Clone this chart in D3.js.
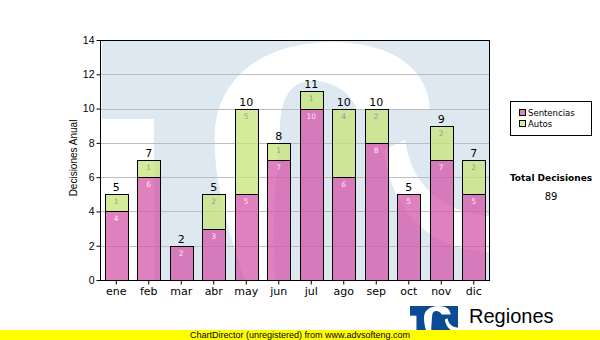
<!DOCTYPE html>
<html>
<head>
<meta charset="utf-8">
<script src="https://cdn.jsdelivr.net/npm/d3@7/dist/d3.min.js"></script>
<style>
  html, body { margin: 0; padding: 0; background: #fff; }
  svg { display: block; }
</style>
</head>
<body>
<svg id="chart" width="600" height="340"></svg>
<script>
// Monthly decisions, split by type
const months = ["ene", "feb", "mar", "abr", "may", "jun", "jul", "ago", "sep", "oct", "nov", "dic"];
const sentencias = [4, 6, 2, 3, 5, 7, 10, 6, 8, 5, 7, 5];
const autos = [1, 1, 0, 2, 5, 1, 1, 4, 2, 0, 2, 2];
const yTicks = [0, 2, 4, 6, 8, 10, 12, 14];
const seriesNames = ["Sentencias", "Autos"];

const totals = months.map((m, i) => sentencias[i] + autos[i]);
const grandTotal = d3.sum(totals);

const svg = d3.select("#chart");
const plot = { left: 100, right: 490, top: 40, bottom: 280 };

const x = d3.scaleBand().domain(months).range([plot.left, plot.right])
  .paddingInner(0.28).paddingOuter(0.14);
const y = d3.scaleLinear().domain([0, 14]).range([plot.bottom, plot.top]);

const PINK = "rgb(212,86,170)";
const GREEN = "rgb(197,228,120)";
const LIGHT = "#dde8f1";
const LOGO = "#0d4a94";

// Emblem outline: white cut-outs on a solid square (coordinates in plot space)
function drawEmblem(g, fill) {
  g.append("rect").attr("x", 102).attr("y", 41).attr("width", 388).attr("height", 260).attr("fill", fill);
  g.append("rect").attr("x", 102).attr("y", 119).attr("width", 52).attr("height", 190).attr("fill", "#fff");
  g.append("path").attr("fill", "#fff").attr("d",
    "M252,300 C230,240 212,180 215,130 C218,80 260,43 330,42 C395,42 428,70 430,110 " +
    "L357,110 C350,90 330,80 310,81 C290,82 281,100 280,125 C278,170 268,230 278,300 Z");
  g.append("path").attr("fill", "#fff").attr("d",
    "M405,140 C412,185 440,212 490,216 L490,252 C428,250 392,210 383,150 Z");
}

// Watermark behind the plot
svg.append("clipPath").attr("id", "plotClip").append("rect")
  .attr("x", plot.left).attr("y", plot.top)
  .attr("width", plot.right - plot.left).attr("height", plot.bottom - plot.top);
drawEmblem(svg.append("g").attr("clip-path", "url(#plotClip)"), LIGHT);

// Horizontal grid
svg.append("g").selectAll("line").data(yTicks.filter(t => t > 0 && t < 14)).join("line")
  .attr("x1", plot.left).attr("x2", plot.right)
  .attr("y1", d => Math.round(y(d)) + 0.5).attr("y2", d => Math.round(y(d)) + 0.5)
  .attr("stroke", "#bdbdbd").attr("stroke-width", 1);

// Stacked bars
const stack = d3.stack().keys(seriesNames)(months.map((m, i) => ({ m, Sentencias: sentencias[i], Autos: autos[i] })));
const colors = { Sentencias: PINK, Autos: GREEN };
const labelColors = { Sentencias: "#fbe6f3", Autos: "#9a9a9a" };

stack.forEach(layer => {
  const g = svg.append("g");
  const segs = layer.filter(d => d[1] - d[0] > 0);
  g.selectAll("rect").data(segs).join("rect")
    .attr("x", d => Math.round(x(d.data.m)) + 0.5)
    .attr("y", d => Math.round(y(d[1])) + 0.5)
    .attr("width", Math.round(x.bandwidth()))
    .attr("height", d => Math.round(y(d[0])) - Math.round(y(d[1])))
    .attr("fill", colors[layer.key]).attr("fill-opacity", 0.75)
    .attr("stroke", "#000").attr("stroke-width", 1);
  g.selectAll("text").data(segs).join("text")
    .attr("x", d => x(d.data.m) + x.bandwidth() / 2)
    .attr("y", d => y(d[1]) + 10)
    .attr("text-anchor", "middle")
    .attr("font-family", "DejaVu Sans").attr("font-size", 7.5)
    .attr("fill", labelColors[layer.key])
    .text(d => d[1] - d[0]);
});

// Totals above the bars
svg.append("g").selectAll("text").data(months).join("text")
  .attr("x", m => x(m) + x.bandwidth() / 2)
  .attr("y", (m, i) => y(totals[i]) - 3)
  .attr("text-anchor", "middle")
  .attr("font-family", "DejaVu Sans").attr("font-size", 11).attr("fill", "#000")
  .text((m, i) => totals[i]);

// Plot frame
svg.append("rect").attr("x", plot.left + 0.5).attr("y", plot.top + 0.5)
  .attr("width", plot.right - plot.left - 1).attr("height", plot.bottom - plot.top)
  .attr("fill", "none").attr("stroke", "#000").attr("stroke-width", 1);

// Axes
const yAxis = d3.axisLeft(y).tickValues(yTicks).tickSize(4).tickPadding(2).tickFormat(d3.format("d"));
const gy = svg.append("g").attr("transform", `translate(${plot.left + 0.5},0)`).call(yAxis);
gy.select(".domain").remove();
gy.selectAll("text").attr("font-family", "Liberation Sans, Arial").attr("font-size", 10.5).attr("fill", "#000");

const xAxis = d3.axisBottom(x).tickSize(4).tickPadding(3);
const gx = svg.append("g").attr("transform", `translate(0,${plot.bottom + 0.5})`).call(xAxis);
gx.select(".domain").remove();
gx.selectAll("text").attr("font-family", "DejaVu Sans").attr("font-size", 11).attr("fill", "#000");

// Axis title
svg.append("text")
  .attr("transform", "translate(77,158) rotate(-90)")
  .attr("text-anchor", "middle")
  .attr("font-family", "Liberation Sans, Arial").attr("font-size", 10)
  .text("Decisiones Anual");

// Legend
const lg = svg.append("g");
lg.append("rect").attr("x", 510.5).attr("y", 101.5).attr("width", 81).attr("height", 34)
  .attr("fill", "#fff").attr("stroke", "#000");
seriesNames.forEach((name, i) => {
  lg.append("rect").attr("x", 519.5).attr("y", 109.5 + i * 11).attr("width", 6).attr("height", 6)
    .attr("fill", colors[name]).attr("fill-opacity", 0.75).attr("stroke", "#000");
  lg.append("text").attr("x", 528).attr("y", 116 + i * 11)
    .attr("font-family", "DejaVu Sans").attr("font-size", 8.5).text(name);
});

// Grand total
svg.append("text").attr("x", 551).attr("y", 181).attr("text-anchor", "middle")
  .attr("font-family", "DejaVu Sans").attr("font-weight", "bold").attr("font-size", 9)
  .text("Total Decisiones");
svg.append("text").attr("x", 551).attr("y", 200).attr("text-anchor", "middle")
  .attr("font-family", "DejaVu Sans").attr("font-size", 10)
  .text(grandTotal);

// Footer emblem and name
svg.append("clipPath").attr("id", "logoClip").append("rect")
  .attr("x", 410).attr("y", 306).attr("width", 48).attr("height", 30);
const logo = svg.append("g").attr("clip-path", "url(#logoClip)")
  .append("g").attr("transform", "translate(410,306) scale(0.124) translate(-102,-41)");
drawEmblem(logo, LOGO);

svg.append("text").attr("x", 469).attr("y", 323)
  .attr("font-family", "Liberation Sans, Arial").attr("font-size", 20).text("Regiones");
svg.append("text").attr("x", 468).attr("y", 337.5)
  .attr("font-family", "Liberation Sans, Arial").attr("font-size", 10).text("Tribunal Supremo de Justicia");

// Footer banner
svg.append("rect").attr("x", 0).attr("y", 330).attr("width", 600).attr("height", 10).attr("fill", "#ffff00");
svg.append("text").attr("x", 300).attr("y", 338).attr("text-anchor", "middle")
  .attr("font-family", "Liberation Sans, Arial").attr("font-size", 9)
  .text("ChartDirector (unregistered) from www.advsofteng.com");
</script>
</body>
</html>
